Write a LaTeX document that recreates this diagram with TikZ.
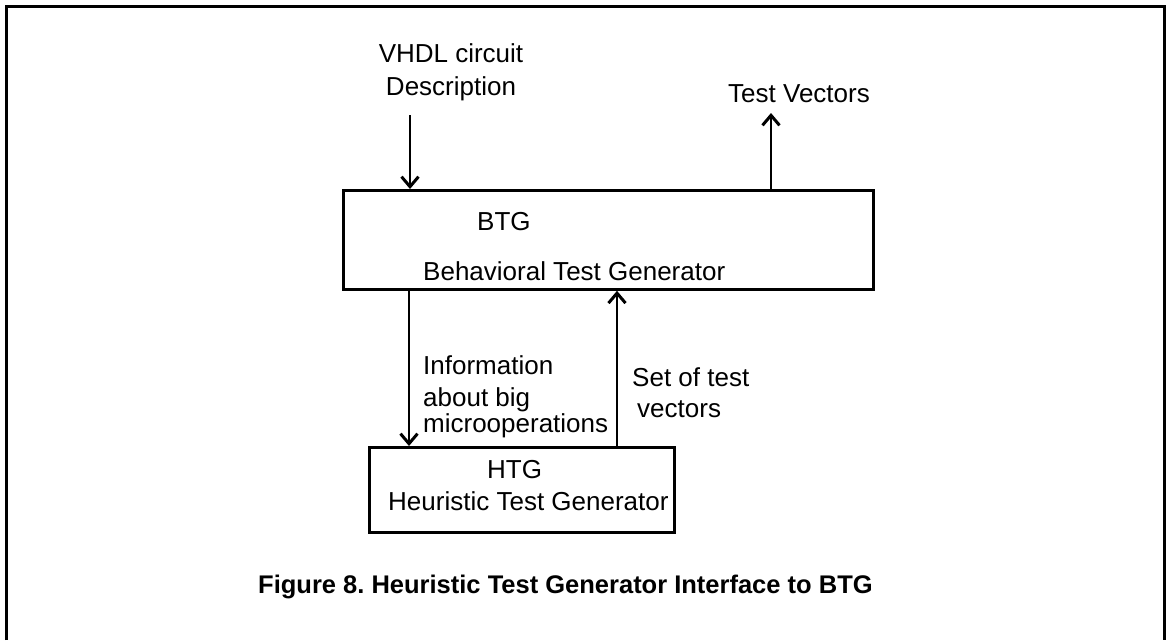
\documentclass[tikz,border=0pt]{standalone}
\usepackage{fontspec}
\setmainfont{Liberation Sans}
\usetikzlibrary{arrows.meta}
\frenchspacing
\begin{document}
\begin{tikzpicture}[x=1pt,y=-1pt,
  block/.style={draw,line width=2.8pt,inner sep=0pt,minimum width=0pt},
  arr/.style={line width=2.6pt,-{Straight Barb[length=10pt,width=17pt,line width=3pt]}},
  lbl/.style={inner sep=0pt,font=\fontsize{26}{30}\selectfont},
  captext/.style={inner sep=0pt,font=\fontsize{25.5}{30}\selectfont\bfseries}]
\useasboundingbox (0,0) rectangle (1167,640);
% outer frame
\draw[line width=3pt] (6,640) -- (6,6) -- (1164,6) -- (1164,640);

% blocks
\node[block,minimum width=530pt,minimum height=99pt,anchor=north west] (btg) at (342,189) {};
\node[block,minimum width=305pt,minimum height=85pt,anchor=north west] (htg) at (368,446) {};

% block texts
\node[lbl,anchor=base west] (btgname) at (477,230) {BTG};
\node[lbl,anchor=base west] (btglong) at (423,280) {Behavioral Test Generator};
\node[lbl,anchor=base west] (htgname) at (487,478) {HTG};
\node[lbl,anchor=base west] (htglong) at (388,510) {Heuristic Test Generator};

% external inputs and outputs (base anchor of a multi-line node = last line)
\node[lbl,anchor=base,align=center,font=\fontsize{26}{33}\selectfont] (vhdl) at (451,95) {VHDL circuit\\Description};
\node[lbl,anchor=base west] (tv) at (728,102) {Test Vectors};
\coordinate (vin) at (410,115);
\coordinate (tvout) at (771,113);
\draw[arr] (vin) -- (vin |- btg.north);
\draw[arr] (tvout |- btg.north) -- (tvout);

% exchange between the generators
\coordinate (dn) at (409,300);
\coordinate (up) at (617,300);
\draw[arr] (dn |- btg.south) -- (dn |- htg.north);
\draw[arr] (up |- htg.north) -- (up |- btg.south);
\node[lbl,anchor=base west,align=left,font=\fontsize{26}{29}\selectfont] (info) at (423,432) {Information\\[3pt]about big\\[-3pt]microoperations};
\node[lbl,anchor=base west,align=left,font=\fontsize{26}{31}\selectfont] (set) at (632,417) {Set of test\\\hspace*{5pt}vectors};

% caption
\node[captext,anchor=base west] (caption) at (258,593) {Figure 8. Heuristic Test Generator Interface to BTG};
\end{tikzpicture}
\end{document}
